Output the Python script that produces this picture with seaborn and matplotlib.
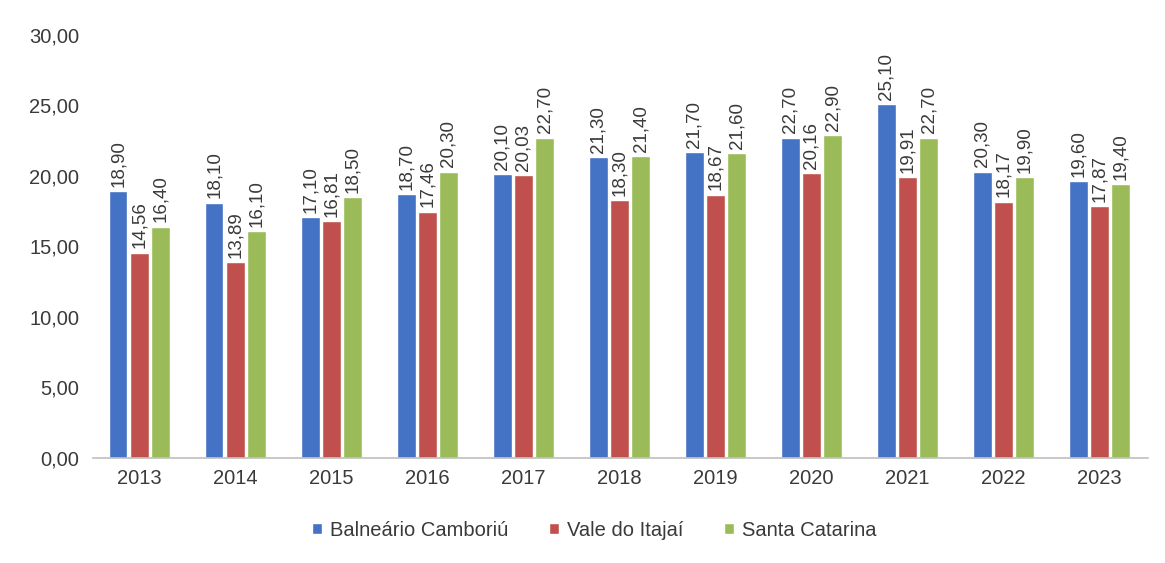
import matplotlib
matplotlib.use("Agg")
import matplotlib.pyplot as plt
import seaborn as sns
import pandas as pd

years = ["2013", "2014", "2015", "2016", "2017", "2018", "2019", "2020", "2021", "2022", "2023"]
series_names = ["Balneário Camboriú", "Vale do Itajaí", "Santa Catarina"]
balneario = [18.90, 18.10, 17.10, 18.70, 20.10, 21.30, 21.70, 22.70, 25.10, 20.30, 19.60]
vale = [14.56, 13.89, 16.81, 17.46, 20.03, 18.30, 18.67, 20.16, 19.91, 18.17, 17.87]
santa = [16.40, 16.10, 18.50, 20.30, 22.70, 21.40, 21.60, 22.90, 22.70, 19.90, 19.40]
yticks = [0, 5, 10, 15, 20, 25, 30]

colors = ["#4472C4", "#C0504D", "#9BBB59"]
text_color = "#3a3a3a"

rows = []
for name, vals in zip(series_names, [balneario, vale, santa]):
    for y, v in zip(years, vals):
        rows.append({"Ano": y, "Série": name, "Valor": v})
df = pd.DataFrame(rows)

sns.set_theme(style="white")
plt.rcParams["font.family"] = ["Liberation Sans", "DejaVu Sans"]

fig = plt.figure(figsize=(11.65, 5.63), dpi=100)
ax = fig.add_axes([0.080, 0.1865, 0.905, 0.752])

sns.barplot(data=df, x="Ano", y="Valor", hue="Série", hue_order=series_names,
            order=years, palette=colors, width=0.66, gap=0.12, saturation=1,
            ax=ax, legend=True)

for container in ax.containers:
    labels = [f"{v:.2f}".replace(".", ",") for v in container.datavalues]
    ax.bar_label(container, labels=labels, rotation=90, padding=3,
                 fontsize=13.5, color=text_color)

ax.set_ylim(0, 30)
ax.set_xlim(-0.48, 10.5)
ax.set_yticks(yticks)
ax.set_yticklabels([f"{t:.2f}".replace(".", ",") for t in yticks])
ax.set_xlabel("")
ax.set_ylabel("")
ax.tick_params(axis="both", labelsize=14.5, colors=text_color, length=0)
ax.tick_params(axis="y", pad=10)
ax.tick_params(axis="x", pad=8)
for s in ["top", "right", "left"]:
    ax.spines[s].set_visible(False)
ax.spines["bottom"].set_color("#bfbfbf")
ax.spines["bottom"].set_linewidth(1.2)

handles, lbls = ax.get_legend_handles_labels()
ax.legend_.remove()
fig.legend(handles, lbls, loc="center", bbox_to_anchor=(0.51, 0.058), ncol=3,
           frameon=False, fontsize=14.5, handlelength=0.5, handleheight=0.5,
           handletextpad=0.4, columnspacing=2.0, labelcolor=text_color)

fig.savefig("out.png", dpi=100, facecolor="white")
